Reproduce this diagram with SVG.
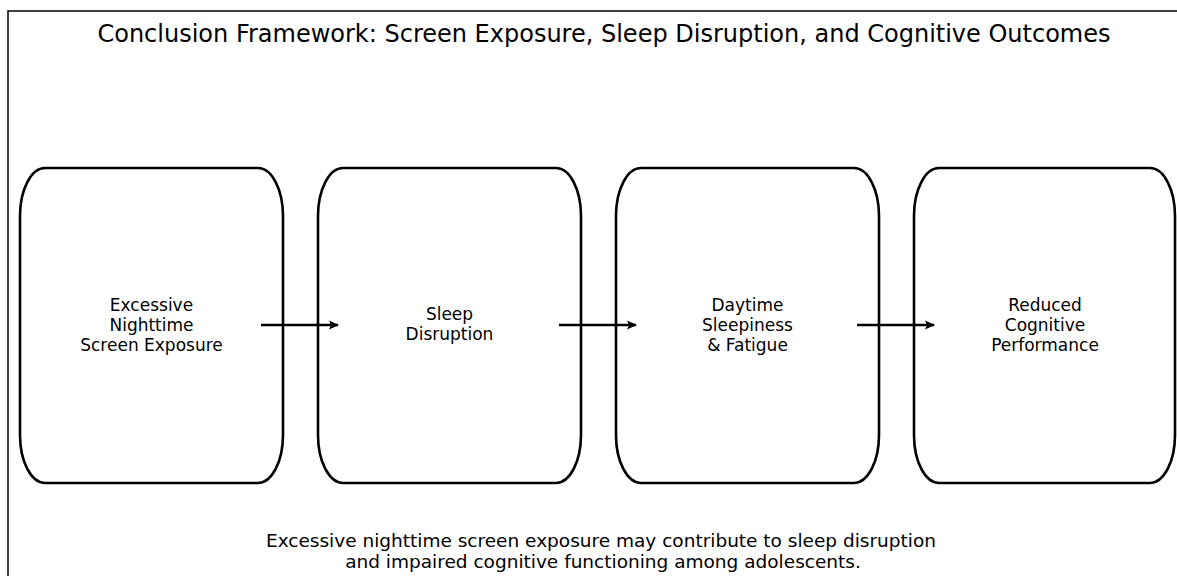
<svg xmlns="http://www.w3.org/2000/svg" width="1177" height="576" viewBox="0 0 1177 576">
<style>
.frame{fill:none;stroke:#000;stroke-width:1.5}
.box{fill:#fff;stroke:#000;stroke-width:2.6}
.lbl{font-family:"DejaVu Sans",sans-serif;font-size:17px;fill:#000;text-anchor:middle}
.cap{font-family:"DejaVu Sans",sans-serif;font-size:18.5px;fill:#000;text-anchor:middle}
.title{font-family:"DejaVu Sans",sans-serif;font-size:24px;fill:#000;text-anchor:middle}
.conn{stroke:#000;stroke-width:2.6;fill:none;marker-end:url(#ah)}
</style>
<defs>
<marker id="ah" markerWidth="10" markerHeight="10" refX="9" refY="5" orient="auto" markerUnits="userSpaceOnUse">
<path d="M0,0.5 L10,5 L0,9.5 L2,5 Z" fill="#000"/>
</marker>
</defs>
<rect width="1177" height="576" fill="#fff"/>
<path class="frame" d="M8,590 V11 H1190"/>
<text class="title" x="604" y="42">Conclusion Framework: Screen Exposure, Sleep Disruption, and Cognitive Outcomes</text>
<g id="node1">
<path class="box" d="M45,168 H258 A25,48 0 0 1 283,216 V435 A25,48 0 0 1 258,483 H45 A25,48 0 0 1 20,435 V216 A25,48 0 0 1 45,168 Z"/>
<text class="lbl" x="151.5" y="311">Excessive</text>
<text class="lbl" x="151.5" y="331">Nighttime</text>
<text class="lbl" x="151.5" y="351">Screen Exposure</text>
</g>
<g id="node2">
<path class="box" d="M343,168 H556 A25,48 0 0 1 581,216 V435 A25,48 0 0 1 556,483 H343 A25,48 0 0 1 318,435 V216 A25,48 0 0 1 343,168 Z"/>
<text class="lbl" x="449.5" y="320">Sleep</text>
<text class="lbl" x="449.5" y="340">Disruption</text>
</g>
<g id="node3">
<path class="box" d="M641,168 H854 A25,48 0 0 1 879,216 V435 A25,48 0 0 1 854,483 H641 A25,48 0 0 1 616,435 V216 A25,48 0 0 1 641,168 Z"/>
<text class="lbl" x="747.5" y="311">Daytime</text>
<text class="lbl" x="747.5" y="331">Sleepiness</text>
<text class="lbl" x="747.5" y="351">&amp; Fatigue</text>
</g>
<g id="node4">
<path class="box" d="M939,168 H1150 A25,48 0 0 1 1175,216 V435 A25,48 0 0 1 1150,483 H939 A25,48 0 0 1 914,435 V216 A25,48 0 0 1 939,168 Z"/>
<text class="lbl" x="1045" y="311">Reduced</text>
<text class="lbl" x="1045" y="331">Cognitive</text>
<text class="lbl" x="1045" y="351">Performance</text>
</g>
<g id="connectors">
<line class="conn" x1="261" y1="325" x2="338" y2="325"/>
<line class="conn" x1="559" y1="325" x2="636" y2="325"/>
<line class="conn" x1="857" y1="325" x2="934" y2="325"/>
</g>
<text class="cap" x="601" y="546.5">Excessive nighttime screen exposure may contribute to sleep disruption</text>
<text class="cap" x="603" y="568">and impaired cognitive functioning among adolescents.</text>
</svg>
